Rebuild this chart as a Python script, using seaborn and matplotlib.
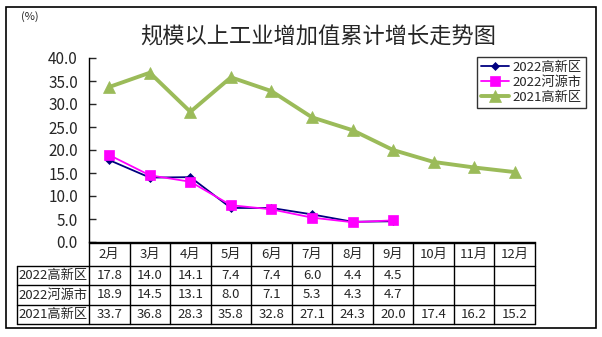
import matplotlib
matplotlib.use("Agg")
import matplotlib.pyplot as plt
import seaborn as sns
import pandas as pd
from matplotlib.patches import Rectangle

months = ["2月", "3月", "4月", "5月", "6月", "7月", "8月", "9月", "10月", "11月", "12月"]
series_names = ["2022高新区", "2022河源市", "2021高新区"]
gx_2022 = [17.8, 14.0, 14.1, 7.4, 7.4, 6.0, 4.4, 4.5]
hy_2022 = [18.9, 14.5, 13.1, 8.0, 7.1, 5.3, 4.3, 4.7]
gx_2021 = [33.7, 36.8, 28.3, 35.8, 32.8, 27.1, 24.3, 20.0, 17.4, 16.2, 15.2]
y_ticks = [0, 5, 10, 15, 20, 25, 30, 35, 40]

sns.set_style("white")
plt.rcParams["font.family"] = ["Noto Sans CJK SC", "DejaVu Sans"]

W, H = 602, 337
fig = plt.figure(figsize=(W / 100, H / 100), dpi=100)

# plot area in pixel terms
px_left, px_right, px_top, px_bot = 89, 535, 58, 242
ax = fig.add_axes([px_left / W, 1 - px_bot / H,
                   (px_right - px_left) / W, (px_bot - px_top) / H])

styles = [
    dict(values=gx_2022, color="#000080", marker="D", ms=4.5, lw=1.3),
    dict(values=hy_2022, color="#FF00FF", marker="s", ms=6.5, lw=1.3),
    dict(values=gx_2021, color="#9BBB59", marker="^", ms=8.5, lw=2.8),
]
for name, st in zip(series_names, styles):
    df = pd.DataFrame({"pos": range(len(st["values"])), "value": st["values"]})
    sns.lineplot(data=df, x="pos", y="value", ax=ax, color=st["color"],
                 marker=st["marker"], markersize=st["ms"], linewidth=st["lw"],
                 markeredgecolor=st["color"], markeredgewidth=0.5,
                 label=name, clip_on=False)

ax.set_xlim(-0.5, len(months) - 0.5)
ax.set_ylim(0, 40)
ax.set_xticks([])
ax.set_yticks(y_ticks)
ax.set_yticklabels([f"{v:.1f}" for v in y_ticks], fontsize=11)
ax.tick_params(axis="y", direction="in", length=5, width=1, pad=8, left=True)
ax.set_xlabel("")
ax.set_ylabel("")
for side in ["top", "right"]:
    ax.spines[side].set_visible(False)
for side in ["left", "bottom"]:
    ax.spines[side].set_color("black")
    ax.spines[side].set_linewidth(1)
ax.patch.set_alpha(0)

leg = ax.legend(loc="upper left", bbox_to_anchor=(477 / W, 1 - 57 / H),
                bbox_transform=fig.transFigure, borderaxespad=0,
                fontsize=9.5, frameon=True, fancybox=False, edgecolor="black",
                handlelength=2.1, handletextpad=0.3, labelspacing=0.15,
                borderpad=0.3)
leg.get_frame().set_linewidth(1)

# overlay canvas in pixel coordinates for the table and frame
cv = fig.add_axes([0, 0, 1, 1], zorder=5)
cv.set_xlim(0, W)
cv.set_ylim(H, 0)
cv.axis("off")
cv.patch.set_alpha(0)

cv.add_patch(Rectangle((6, 7), 590, 321, fill=False, edgecolor="black", linewidth=1.2))

cv.text(30, 17, "(%)", fontsize=8, ha="center", va="center")
cv.text(318, 37, "规模以上工业增加值累计增长走势图", fontsize=16,
        fontweight="light", ha="center", va="center")

col_w = (px_right - px_left) / len(months)
label_left = 17
row_edges = [243, 266, 285, 305, 324]
lkw = dict(color="black", linewidth=1)
cv.plot([px_left, px_right], [row_edges[0], row_edges[0]], **lkw)
for yy in row_edges[1:]:
    cv.plot([label_left, px_right], [yy, yy], **lkw)
cv.plot([label_left, label_left], [row_edges[1], row_edges[-1]], **lkw)
for i in range(len(months) + 1):
    xx = px_left + i * col_w
    cv.plot([xx, xx], [row_edges[0], row_edges[-1]], **lkw)

fs_tab = 9.5
for i, m in enumerate(months):
    cx = px_left + (i + 0.5) * col_w
    cv.text(cx, (row_edges[0] + row_edges[1]) / 2, m, fontsize=fs_tab, ha="center", va="center")

rows = [gx_2022, hy_2022, gx_2021]
for r, (name, vals) in enumerate(zip(series_names, rows)):
    cy = (row_edges[r + 1] + row_edges[r + 2]) / 2
    cv.text((label_left + px_left) / 2, cy, name, fontsize=fs_tab, ha="center", va="center")
    for i, v in enumerate(vals):
        cx = px_left + (i + 0.5) * col_w
        cv.text(cx, cy, f"{v:.1f}", fontsize=fs_tab, ha="center", va="center")

fig.savefig("out.png", dpi=100, facecolor="white")
